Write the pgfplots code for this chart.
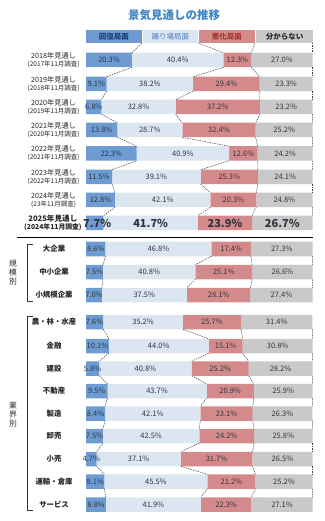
\documentclass[border=0pt]{standalone}
\usepackage{pgfplots}
\usepackage{pgfplotstable}
\pgfplotsset{compat=1.18}
\usepackage{fontspec}
\setmainfont{Noto Sans CJK JP}
\definecolor{cblue}{HTML}{6E9CD2}
\definecolor{clight}{HTML}{DCE6F1}
\definecolor{cred}{HTML}{D48A8A}
\definecolor{cgray}{HTML}{C9C9C9}
\definecolor{hblue}{HTML}{1F3F77}
\definecolor{hlight}{HTML}{4D7DBF}
\definecolor{hred}{HTML}{A33636}
\definecolor{hgray}{HTML}{262626}
\definecolor{valtext}{HTML}{30343E}
\definecolor{titlec}{HTML}{3F85C5}
\definecolor{labc}{HTML}{262626}

\pgfplotstableread{
y a b c d
60 20.3 40.4 12.3 27.0
84 9.1 38.2 29.4 23.3
107 6.8 32.8 37.2 23.2
130 13.8 28.7 32.4 25.2
153.5 22.3 40.9 12.6 24.2
177 11.5 39.1 25.3 24.1
200 12.8 42.1 20.3 24.8
223 7.7 41.7 23.9 26.7
249 8.6 46.8 17.4 27.3
272 7.5 40.8 25.1 26.6
295 7.0 37.5 28.1 27.4
322 7.6 35.2 25.7 31.4
346 10.1 44.0 15.1 30.8
368.5 5.8 40.8 25.2 28.2
391 9.5 43.7 20.9 25.9
413.5 8.4 42.1 23.1 26.3
436 7.5 42.5 24.2 25.8
459 4.7 37.1 31.7 26.5
481.5 8.1 45.5 21.2 25.2
504.5 8.8 41.9 22.3 27.1
}\data

\newcommand\cum[1]{%
  \pgfplotstablegetelem{#1}{a}\of\data\pgfmathsetmacro\qa{\pgfplotsretval}%
  \pgfplotstablegetelem{#1}{b}\of\data\pgfmathsetmacro\qb{\qa+\pgfplotsretval}%
  \pgfplotstablegetelem{#1}{c}\of\data\pgfmathsetmacro\qc{\qb+\pgfplotsretval}%
  \pgfplotstablegetelem{#1}{d}\of\data\pgfmathsetmacro\qd{\qc+\pgfplotsretval}%
  \pgfplotstablegetelem{#1}{y}\of\data\pgfmathsetmacro\qy{\pgfplotsretval}}
\newcommand\connrow[1]{%
  \cum{#1}\let\pa\qa\let\pb\qb\let\pc\qc\let\pd\qd\pgfmathsetmacro\py{\qy+7.25}%
  \pgfmathtruncatemacro\jj{#1+1}\cum{\jj}\pgfmathsetmacro\ny{\qy-7.25}%
  \edef\tmp{\noexpand\draw[conn] (axis cs:\pa,\py) -- (axis cs:\qa,\ny);
    \noexpand\draw[conn] (axis cs:\pb,\py) -- (axis cs:\qb,\ny);
    \noexpand\draw[conn] (axis cs:\pc,\py) -- (axis cs:\qc,\ny);
    \noexpand\draw[conn] (axis cs:\pd,\py) -- (axis cs:\qd,\ny);}\tmp}

\newcommand\yl[2]{{\fontsize{7.2}{7.8}\selectfont #1}\\{\fontsize{6.5}{7.8}\selectfont #2}}

\pgfplotsset{
  base/.style={scale only axis, width=324pt, height=521pt, at={(0,0)}, anchor=south west,
    xmin=-37.97, xmax=105.08, ymin=0, ymax=521, y dir=reverse, hide axis, clip=false},
  vals/.style={draw=none, mark=none, point meta=explicit,
    nodes near coords={\pgfmathprintnumber[fixed,fixed zerofill,precision=1,assume math mode=true]{\pgfplotspointmeta}\%},
    every node near coord/.append style={anchor=center, inner sep=0pt, font=\fontsize{7.5}{8}\selectfont, text=valtext},
    skip coords between index={7}{8}},
  vals25/.style={draw=none, mark=none, point meta=explicit,
    nodes near coords={\pgfmathprintnumber[fixed,fixed zerofill,precision=1,assume math mode=true]{\pgfplotspointmeta}\%},
    every node near coord/.append style={anchor=center, inner sep=0pt, font=\fontsize{11}{12}\selectfont\bfseries, text=valtext},
    skip coords between index={0}{7}, skip coords between index={8}{20}},
}
\tikzset{conn/.style={draw=black!75, line width=0.5pt, dash pattern=on 1.5pt off 1pt},
  lab/.style={align=center, text=labc, font=\fontsize{6.5}{7.8}\selectfont},
  glab/.style={font=\fontsize{7.4}{8}\selectfont\bfseries, text=labc}}

\begin{document}
\begin{tikzpicture}
\useasboundingbox (0,0) rectangle (324pt,521pt);
\begin{axis}[base, xbar stacked, bar width=14.5]
% connectors (behind bars)
\cum{0}%
\edef\tmp{\noexpand\draw[conn] (axis cs:24.7,43) -- (axis cs:\qa,52.75);
  \noexpand\draw[conn] (axis cs:49.4,43) -- (axis cs:\qb,52.75);
  \noexpand\draw[conn] (axis cs:74.6,43) -- (axis cs:\qc,52.75);
  \noexpand\draw[conn] (axis cs:\qd,43) -- (axis cs:\qd,52.75);}\tmp
\pgfplotsforeachungrouped \i in {0,1,2,3,4,5,6,8,9,11,12,13,14,15,16,17,18}{\connrow{\i}}
\addplot[fill=cblue, draw=none] table[x=a, y=y] {\data};
\addplot[fill=clight, draw=none] table[x=b, y=y] {\data};
\addplot[fill=cred, draw=none] table[x=c, y=y] {\data};
\addplot[fill=cgray, draw=none] table[x=d, y=y] {\data};
\end{axis}
\begin{axis}[base]
% value labels
\addplot[vals] table[x expr={0.5*\thisrow{a}}, y=y, meta=a] {\data};
\addplot[vals] table[x expr={\thisrow{a}+0.5*\thisrow{b}}, y=y, meta=b] {\data};
\addplot[vals] table[x expr={\thisrow{a}+\thisrow{b}+0.5*\thisrow{c}}, y=y, meta=c] {\data};
\addplot[vals] table[x expr={\thisrow{a}+\thisrow{b}+\thisrow{c}+0.5*\thisrow{d}}, y=y, meta=d] {\data};
\addplot[vals25, every node near coord/.append style={xshift=2.5pt}] table[x expr={0.5*\thisrow{a}}, y=y, meta=a] {\data};
\addplot[vals25] table[x expr={\thisrow{a}+0.5*\thisrow{b}}, y=y, meta=b] {\data};
\addplot[vals25] table[x expr={\thisrow{a}+\thisrow{b}+0.5*\thisrow{c}}, y=y, meta=c] {\data};
\addplot[vals25] table[x expr={\thisrow{a}+\thisrow{b}+\thisrow{c}+0.5*\thisrow{d}}, y=y, meta=d] {\data};
% title
\node[font=\fontsize{11.5}{12}\selectfont\bfseries, text=titlec] at (axis cs:38.9,15.5) {景気見通しの推移};
% header boxes
\fill[cblue] (axis cs:0,30) rectangle (axis cs:24.7,43);
\fill[clight] (axis cs:25.2,30) rectangle (axis cs:49.4,43);
\fill[cred] (axis cs:49.9,30) rectangle (axis cs:74.6,43);
\fill[cgray] (axis cs:75.1,30) rectangle (axis cs:100.2,43);
\node[font=\fontsize{7.5}{8}\selectfont\bfseries, text=hblue] at (axis cs:12.35,36.5) {回復局面};
\node[font=\fontsize{7.5}{8}\selectfont, text=hlight] at (axis cs:37.3,36.5) {踊り場局面};
\node[font=\fontsize{7.5}{8}\selectfont\bfseries, text=hred] at (axis cs:62.25,36.5) {悪化局面};
\node[font=\fontsize{7.5}{8}\selectfont\bfseries, text=hgray] at (axis cs:87.65,36.5) {分からない};
% year labels
\node[lab] at (axis cs:-14.3,60) {\yl{2018年見通し}{(2017年11月調査)}};
\node[lab] at (axis cs:-14.3,84) {\yl{2019年見通し}{(2018年11月調査)}};
\node[lab] at (axis cs:-14.3,107) {\yl{2020年見通し}{(2019年11月調査)}};
\node[lab] at (axis cs:-14.3,130) {\yl{2021年見通し}{(2020年11月調査)}};
\node[lab] at (axis cs:-14.3,153.5) {\yl{2022年見通し}{(2021年11月調査)}};
\node[lab] at (axis cs:-14.3,177) {\yl{2023年見通し}{(2022年11月調査)}};
\node[lab] at (axis cs:-14.3,200) {\yl{2024年見通し}{(23年11月調査)}};
\node[lab, font=\fontsize{6.8}{8.2}\selectfont] at (axis cs:-14.6,223) {{\fontsize{7.6}{8.2}\selectfont\bfseries 2025年見通し}\\{\fontsize{6.8}{8.2}\selectfont\bfseries (2024年11月調査)}};
% separator
\draw[line width=0.9pt, black] (axis cs:-30.5,237) -- (axis cs:100.2,237);
% group labels
\node[glab] at (axis cs:-14.1,249) {大企業};
\node[glab] at (axis cs:-14.1,272) {中小企業};
\node[glab] at (axis cs:-14.1,295) {小規模企業};
\node[glab] at (axis cs:-14.1,322) {農・林・水産};
\node[glab] at (axis cs:-14.1,346) {金融};
\node[glab] at (axis cs:-14.1,368.5) {建設};
\node[glab] at (axis cs:-14.1,391) {不動産};
\node[glab] at (axis cs:-14.1,413.5) {製造};
\node[glab] at (axis cs:-14.1,436) {卸売};
\node[glab] at (axis cs:-14.1,459) {小売};
\node[glab] at (axis cs:-14.1,481.5) {運輸・倉庫};
\node[glab] at (axis cs:-14.1,504.5) {サービス};
% brackets
\draw[line width=0.6pt, black!80] (axis cs:-23.4,244) -- (axis cs:-25.8,244) -- (axis cs:-25.8,301) -- (axis cs:-23.4,301);
\draw[line width=0.6pt, black!80] (axis cs:-23.4,316) -- (axis cs:-25.8,316) -- (axis cs:-25.8,510) -- (axis cs:-23.4,510);
\node[align=center, font=\fontsize{7.8}{9}\selectfont, text=labc] at (axis cs:-32.2,273) {規\\模\\別};
\node[align=center, font=\fontsize{7.8}{9}\selectfont, text=labc] at (axis cs:-32.2,415) {業\\界\\別};
\end{axis}
\end{tikzpicture}
\end{document}
